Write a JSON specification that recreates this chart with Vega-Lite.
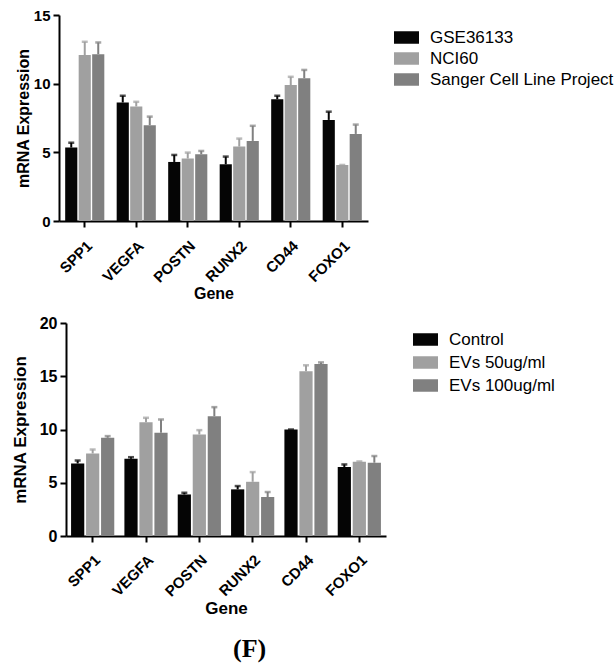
{
  "$schema": "https://vega.github.io/schema/vega-lite/v6.json",
  "padding": {"left": 11, "top": 8, "right": 0, "bottom": 4},
  "background": "white",
  "config": {
    "view": {"stroke": null},
    "font": "Liberation Sans",
    "axis": {
      "domainColor": "#000", "domainWidth": 2, "tickColor": "#000", "tickWidth": 2, "tickSize": 6,
      "labelFont": "Liberation Sans", "labelFontWeight": "bold", "labelColor": "#000",
      "titleFont": "Liberation Sans", "titleColor": "#000", "titleFontWeight": "bold", "grid": false
    },
    "legend": {
      "title": null, "orient": "none",
      "symbolType": "M-1,-0.5H1V0.5H-1Z", "symbolSize": 625, "symbolStrokeWidth": 0, "symbolOpacity": 1,
      "labelFont": "Liberation Sans", "labelColor": "#000", "labelOffset": 11, "labelLimit": 400, "padding": 0
    }
  },
  "title": {"text": "(F)", "orient": "bottom", "font": "Liberation Serif", "fontSize": 26, "fontWeight": "bold", "color": "#000", "offset": 20, "anchor": "middle", "dx": -63},
  "spacing": 13,
  "resolve": {"scale": {"color": "independent", "x": "independent", "y": "independent", "xOffset": "independent"}, "legend": {"color": "independent"}},
  "vconcat": [
    {
      "width": 309, "height": 206,
      "data": {"values": [
        {"gene": "SPP1", "source": "GSE36133", "value": 5.35, "upper": 5.7},
        {"gene": "SPP1", "source": "NCI60", "value": 12.08, "upper": 13.05},
        {"gene": "SPP1", "source": "Sanger Cell Line Project", "value": 12.15, "upper": 13.0},
        {"gene": "VEGFA", "source": "GSE36133", "value": 8.63, "upper": 9.12},
        {"gene": "VEGFA", "source": "NCI60", "value": 8.34, "upper": 8.68},
        {"gene": "VEGFA", "source": "Sanger Cell Line Project", "value": 6.98, "upper": 7.6},
        {"gene": "POSTN", "source": "GSE36133", "value": 4.3, "upper": 4.81},
        {"gene": "POSTN", "source": "NCI60", "value": 4.55, "upper": 4.98},
        {"gene": "POSTN", "source": "Sanger Cell Line Project", "value": 4.86, "upper": 5.1},
        {"gene": "RUNX2", "source": "GSE36133", "value": 4.13, "upper": 4.69},
        {"gene": "RUNX2", "source": "NCI60", "value": 5.42, "upper": 6.0},
        {"gene": "RUNX2", "source": "Sanger Cell Line Project", "value": 5.83, "upper": 6.93},
        {"gene": "CD44", "source": "GSE36133", "value": 8.87, "upper": 9.12},
        {"gene": "CD44", "source": "NCI60", "value": 9.9, "upper": 10.5},
        {"gene": "CD44", "source": "Sanger Cell Line Project", "value": 10.4, "upper": 11.0},
        {"gene": "FOXO1", "source": "GSE36133", "value": 7.36, "upper": 7.96},
        {"gene": "FOXO1", "source": "NCI60", "value": 4.08, "upper": 4.08},
        {"gene": "FOXO1", "source": "Sanger Cell Line Project", "value": 6.34, "upper": 7.02}
      ]},
      "encoding": {
        "x": {"field": "gene", "type": "nominal", "sort": ["SPP1", "VEGFA", "POSTN", "RUNX2", "CD44", "FOXO1"],
              "scale": {"paddingInner": 0.24, "paddingOuter": 0.12},
              "axis": {"title": "Gene", "labelAngle": -45, "labelFontSize": 15, "labelPadding": 11, "titleFontSize": 16, "titlePadding": 0}},
        "xOffset": {"field": "source", "type": "nominal", "sort": ["GSE36133", "NCI60", "Sanger Cell Line Project"], "scale": {"paddingInner": 0.1}},
        "color": {"field": "source", "type": "nominal",
                  "scale": {"domain": ["GSE36133", "NCI60", "Sanger Cell Line Project"], "range": ["#050505", "#a0a0a0", "#808080"]},
                  "legend": {"legendX": 335, "legendY": 10, "labelFontSize": 17, "rowPadding": -2}}
      },
      "layer": [
        {"mark": {"type": "bar"},
         "encoding": {"y": {"field": "value", "type": "quantitative", "scale": {"domain": [0, 15], "nice": false},
                            "axis": {"title": "mRNA Expression", "values": [0, 5, 10, 15], "labelFontSize": 15, "labelPadding": 3, "titleFontSize": 16, "titlePadding": 2}}}},
        {"mark": {"type": "rule", "strokeWidth": 2},
         "encoding": {"y": {"field": "value", "type": "quantitative", "scale": {"domain": [0, 15], "nice": false}}, "y2": {"field": "upper"}}},
        {"mark": {"type": "tick", "thickness": 2.5, "size": 6},
         "encoding": {"y": {"field": "upper", "type": "quantitative", "scale": {"domain": [0, 15], "nice": false}}}}
      ]
    },
    {
      "width": 327, "height": 213,
      "data": {"values": [
        {"gene": "SPP1", "group": "Control", "value": 6.81, "upper": 7.09},
        {"gene": "SPP1", "group": "EVs 50ug/ml", "value": 7.75, "upper": 8.12},
        {"gene": "SPP1", "group": "EVs 100ug/ml", "value": 9.22, "upper": 9.38},
        {"gene": "VEGFA", "group": "Control", "value": 7.25, "upper": 7.4},
        {"gene": "VEGFA", "group": "EVs 50ug/ml", "value": 10.69, "upper": 11.1},
        {"gene": "VEGFA", "group": "EVs 100ug/ml", "value": 9.69, "upper": 10.94},
        {"gene": "POSTN", "group": "Control", "value": 3.9, "upper": 4.06},
        {"gene": "POSTN", "group": "EVs 50ug/ml", "value": 9.53, "upper": 9.94},
        {"gene": "POSTN", "group": "EVs 100ug/ml", "value": 11.25, "upper": 12.1},
        {"gene": "RUNX2", "group": "Control", "value": 4.38, "upper": 4.69},
        {"gene": "RUNX2", "group": "EVs 50ug/ml", "value": 5.09, "upper": 6.0},
        {"gene": "RUNX2", "group": "EVs 100ug/ml", "value": 3.66, "upper": 4.13},
        {"gene": "CD44", "group": "Control", "value": 10.0, "upper": 10.0},
        {"gene": "CD44", "group": "EVs 50ug/ml", "value": 15.47, "upper": 16.03},
        {"gene": "CD44", "group": "EVs 100ug/ml", "value": 16.16, "upper": 16.3},
        {"gene": "FOXO1", "group": "Control", "value": 6.48, "upper": 6.72},
        {"gene": "FOXO1", "group": "EVs 50ug/ml", "value": 6.98, "upper": 7.0},
        {"gene": "FOXO1", "group": "EVs 100ug/ml", "value": 6.88, "upper": 7.51}
      ]},
      "encoding": {
        "x": {"field": "gene", "type": "nominal", "sort": ["SPP1", "VEGFA", "POSTN", "RUNX2", "CD44", "FOXO1"],
              "scale": {"paddingInner": 0.19, "paddingOuter": 0.095, "range": [7, 327]},
              "axis": {"title": "Gene", "labelAngle": -45, "labelFontSize": 15, "labelPadding": 10, "titleFontSize": 17, "titlePadding": 1}},
        "xOffset": {"field": "group", "type": "nominal", "sort": ["Control", "EVs 50ug/ml", "EVs 100ug/ml"], "scale": {"paddingInner": 0.12}},
        "color": {"field": "group", "type": "nominal",
                  "scale": {"domain": ["Control", "EVs 50ug/ml", "EVs 100ug/ml"], "range": ["#050505", "#a0a0a0", "#808080"]},
                  "legend": {"legendX": 354, "legendY": 4, "labelFontSize": 17, "rowPadding": 2}}
      },
      "layer": [
        {"mark": {"type": "bar"},
         "encoding": {"y": {"field": "value", "type": "quantitative", "scale": {"domain": [0, 20], "nice": false},
                            "axis": {"title": "mRNA Expression", "values": [0, 5, 10, 15, 20], "offset": -7, "labelFontSize": 16, "labelPadding": 3, "titleFontSize": 17, "titlePadding": 10}}}},
        {"mark": {"type": "rule", "strokeWidth": 2},
         "encoding": {"y": {"field": "value", "type": "quantitative", "scale": {"domain": [0, 20], "nice": false}}, "y2": {"field": "upper"}}},
        {"mark": {"type": "tick", "thickness": 2.5, "size": 6},
         "encoding": {"y": {"field": "upper", "type": "quantitative", "scale": {"domain": [0, 20], "nice": false}}}}
      ]
    }
  ]
}
